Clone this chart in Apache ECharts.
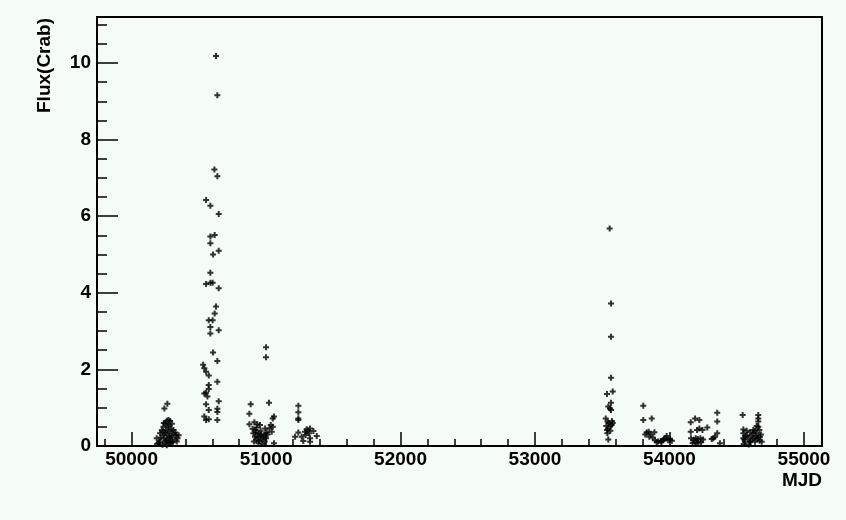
<!DOCTYPE html>
<html>
<head>
<meta charset="utf-8">
<script src="https://cdn.jsdelivr.net/npm/echarts@6/dist/echarts.min.js"></script>
<style>
  html, body { margin: 0; padding: 0; background: #f5fbf7; }
  #chart { width: 846px; height: 520px; }
</style>
</head>
<body>
<div id="chart"></div>
<script>
// Light curve: flux in Crab units versus Modified Julian Date
const mjd = [
  // 1996 season
  50244, 50266, 50262, 50274, 50286, 50250, 50237, 50225, 50212, 50232, 50256, 50270, 50293, 50305, 50330, 50342,
  50318, 50286, 50262, 50237, 50212, 50200, 50187, 50274, 50293, 50250, 50256, 50244, 50268, 50280, 50300, 50312,
  50325, 50290, 50230, 50262, 50280, 50218, 50250, 50275, 50300, 50240, 50336, 50190, 50305, 50350,
  // 1997 flare
  50628, 50638, 50616, 50638, 50554, 50586, 50648, 50586, 50618, 50586, 50648, 50606, 50586, 50554, 50586, 50603,
  50648, 50628, 50618, 50574, 50603, 50586, 50648, 50586, 50606, 50638, 50532, 50541, 50554, 50574, 50638, 50574,
  50574, 50554, 50541, 50564, 50554, 50648, 50574, 50638, 50638, 50541, 50574, 50554, 50638,
  // 1998 season
  51000, 51000, 50886, 51022, 50876, 51059, 51050, 50876, 50913, 50935, 50955, 51050, 51025, 50993, 51042, 50906,
  50925, 50945, 50965, 50985, 50918, 50938, 50958, 50978, 50928, 50948, 50968, 50943, 51059, 51000, 50920, 50960,
  50990, 51005, 50910, 50975, 51012, 51035, 50900, 50930,
  // 1999 season
  51240, 51240, 51240, 51240, 51240, 51216, 51265, 51290, 51302, 51327, 51320, 51352, 51377, 51327, 51327, 51277,
  51295, 51310,
  // 2005 season
  53555, 53565, 53565, 53565, 53535, 53578, 53565, 53545, 53558, 53565, 53526, 53540, 53550, 53572, 53578, 53530,
  53560, 53535, 53545, 53538, 53545, 53560, 53570,
  // 2006 season
  53805, 53805, 53868, 53830, 53845, 53860, 53888, 53850, 53875, 53892, 53915, 53935, 53950, 53960, 53975, 53990,
  54005, 53905, 53940, 53979, 54018, 53820,
  // 2007 season
  54158, 54190, 54222, 54158, 54222, 54281, 54355, 54355, 54355, 54314, 54326, 54338, 54375, 54160, 54180, 54195,
  54210, 54230, 54250, 54190, 54215, 54235, 54172, 54205, 54245,
  // 2008 season
  54544, 54660, 54660, 54660, 54648, 54660, 54623, 54636, 54668, 54549, 54574, 54599, 54623, 54648, 54549, 54574,
  54611, 54549, 54586, 54623, 54648, 54673, 54561, 54599, 54636, 54686, 54552, 54590, 54660, 54565, 54610, 54680,
  54556, 54640, 54670
];

const flux = [
  // 1996 season
  0.98, 1.10, 0.66, 0.68, 0.65, 0.59, 0.50, 0.42, 0.33, 0.36, 0.42, 0.50, 0.45, 0.33, 0.29, 0.20,
  0.16, 0.20, 0.16, 0.20, 0.11, 0.08, 0.20, 0.07, 0.07, 0.07, 0.13, 0.28, 0.30, 0.38, 0.25, 0.42,
  0.35, 0.12, 0.03, 0.02, 0.25, 0.22, 0.35, 0.55, 0.58, 0.60, 0.12, 0.05, 0.10, 0.28,
  // 1997 flare
  10.18, 9.16, 7.22, 7.04, 6.42, 6.27, 6.06, 5.47, 5.51, 5.29, 5.10, 5.00, 4.52, 4.23, 4.26, 4.26,
  4.12, 3.64, 3.46, 3.28, 3.28, 3.11, 3.02, 2.94, 2.44, 2.22, 2.12, 2.03, 1.94, 1.84, 1.68, 1.59,
  1.49, 1.39, 1.37, 1.29, 1.09, 1.17, 0.94, 0.97, 0.89, 0.77, 0.70, 0.68, 0.68,
  // 1998 season
  2.58, 2.32, 1.09, 1.13, 0.84, 0.77, 0.72, 0.57, 0.62, 0.57, 0.55, 0.50, 0.46, 0.46, 0.37, 0.33,
  0.35, 0.33, 0.30, 0.28, 0.24, 0.24, 0.24, 0.24, 0.16, 0.13, 0.16, 0.07, 0.07, 0.20, 0.42, 0.40,
  0.12, 0.35, 0.12, 0.05, 0.30, 0.55, 0.45, 0.48,
  // 1999 season
  1.05, 0.88, 0.72, 0.68, 0.35, 0.24, 0.24, 0.37, 0.44, 0.46, 0.33, 0.39, 0.26, 0.20, 0.11, 0.13,
  0.29, 0.40,
  // 2005 season
  5.68, 3.72, 2.85, 1.78, 1.36, 1.42, 1.13, 1.03, 0.98, 0.94, 0.72, 0.63, 0.60, 0.65, 0.60, 0.52,
  0.52, 0.42, 0.45, 0.33, 0.17, 0.40, 0.55,
  // 2006 season
  1.05, 0.68, 0.72, 0.35, 0.37, 0.31, 0.36, 0.24, 0.22, 0.15, 0.12, 0.13, 0.15, 0.18, 0.20, 0.15,
  0.17, 0.10, 0.10, 0.26, 0.14, 0.30,
  // 2007 season
  0.62, 0.72, 0.68, 0.37, 0.46, 0.48, 0.87, 0.64, 0.33, 0.18, 0.20, 0.24, 0.07, 0.20, 0.16, 0.20,
  0.18, 0.20, 0.17, 0.10, 0.09, 0.10, 0.08, 0.42, 0.42,
  // 2008 season
  0.81, 0.81, 0.72, 0.64, 0.52, 0.50, 0.42, 0.40, 0.42, 0.43, 0.40, 0.36, 0.33, 0.33, 0.33, 0.28,
  0.26, 0.20, 0.20, 0.20, 0.20, 0.24, 0.11, 0.11, 0.11, 0.11, 0.05, 0.04, 0.20, 0.25, 0.15, 0.30,
  0.17, 0.27, 0.14
];

const xMajorTicks = [50000, 51000, 52000, 53000, 54000, 55000];
const xMinorTicks = [49800, 50000, 50200, 50400, 50600, 50800, 51000, 51200, 51400, 51600, 51800, 52000, 52200,
  52400, 52600, 52800, 53000, 53200, 53400, 53600, 53800, 54000, 54200, 54400, 54600, 54800, 55000];
const yMajorTicks = [0, 2, 4, 6, 8, 10];
const yMinorTicks = [0, 0.5, 1, 1.5, 2, 2.5, 3, 3.5, 4, 4.5, 5, 5.5, 6, 6.5, 7, 7.5, 8, 8.5, 9, 9.5, 10, 10.5, 11];

const xTitle = 'MJD';
const yTitle = 'Flux(Crab)';

const FONT = '"Liberation Sans", Arial, Helvetica, sans-serif';
const X_MIN = 49743, X_MAX = 55134;
const Y_MIN = 0, Y_MAX = 11.2;

const points = mjd.map((m, i) => [m, flux[i]]);

const labelStyle = { color: '#000', fontFamily: FONT, fontWeight: 'bold', fontSize: 19 };
const lineStyle = { color: '#000', width: 2 };
const plainNumber = (v) => String(v);

const chart = echarts.init(document.getElementById('chart'), null, { renderer: 'canvas' });

chart.setOption({
  animation: false,
  backgroundColor: '#f5fbf7',
  grid: {
    left: 97, right: 24, top: 17, bottom: 74,
    show: true, borderColor: '#000', borderWidth: 2, backgroundColor: 'transparent'
  },
  xAxis: [
    {
      type: 'value', min: X_MIN, max: X_MAX, position: 'bottom', offset: 0,
      axisLine: { show: true, onZero: false, lineStyle },
      axisTick: { show: true, inside: true, length: 14, customValues: xMajorTicks, lineStyle: { color: '#000', width: 1.5 } },
      axisLabel: { show: true, customValues: xMajorTicks, margin: 4, formatter: plainNumber, ...labelStyle },
      splitLine: { show: false }
    },
    {
      type: 'value', min: X_MIN, max: X_MAX, position: 'bottom', offset: 0,
      axisLine: { show: false },
      axisTick: { show: true, inside: true, length: 7, customValues: xMinorTicks, lineStyle: { color: '#000', width: 1.5 } },
      axisLabel: { show: false },
      splitLine: { show: false }
    }
  ],
  yAxis: [
    {
      type: 'value', min: Y_MIN, max: Y_MAX, position: 'left', offset: 0,
      axisLine: { show: true, onZero: false, lineStyle },
      axisTick: { show: true, inside: true, length: 21, customValues: yMajorTicks, lineStyle: { color: '#000', width: 1.5 } },
      axisLabel: { show: true, customValues: yMajorTicks, margin: 6, formatter: plainNumber, ...labelStyle },
      splitLine: { show: false }
    },
    {
      type: 'value', min: Y_MIN, max: Y_MAX, position: 'left', offset: 0,
      axisLine: { show: false },
      axisTick: { show: true, inside: true, length: 10, customValues: yMinorTicks, lineStyle: { color: '#000', width: 1.5 } },
      axisLabel: { show: false },
      splitLine: { show: false }
    }
  ],
  graphic: [
    {
      type: 'text', x: 822, y: 481,
      style: { text: xTitle, textAlign: 'right', textVerticalAlign: 'middle', fill: '#000', font: 'bold 19px ' + FONT }
    },
    {
      type: 'text', x: 45, y: 18, rotation: Math.PI / 2,
      style: { text: yTitle, textAlign: 'right', textVerticalAlign: 'middle', fill: '#000', font: 'bold 19px ' + FONT }
    }
  ],
  series: [
    {
      type: 'scatter',
      xAxisIndex: 0, yAxisIndex: 0,
      data: points,
      symbol: 'path://M2,0h2v2h2v2h-2v2h-2v-2h-2v-2h2z',
      symbolSize: 6,
      itemStyle: { color: '#000' },
      emphasis: { disabled: true },
      silent: true
    }
  ]
});
</script>
</body>
</html>
